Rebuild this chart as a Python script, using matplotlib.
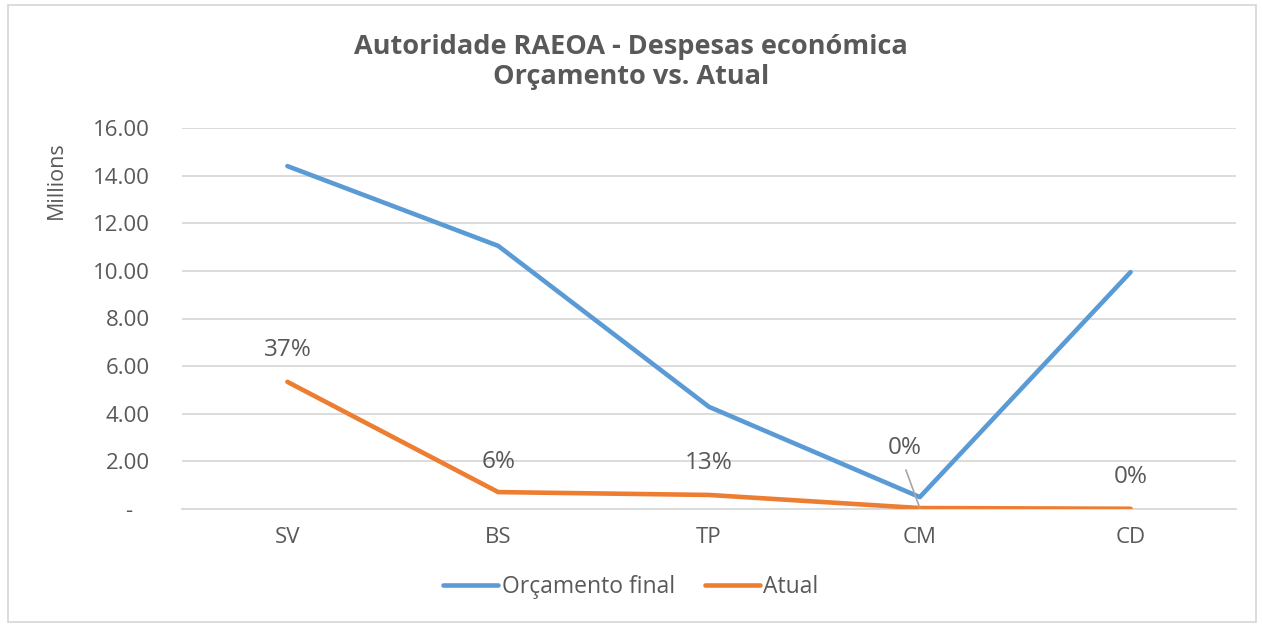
import matplotlib
matplotlib.use("Agg")
import matplotlib.pyplot as plt
from matplotlib.patches import Rectangle
from matplotlib.ticker import FixedLocator

categories = ["SV", "BS", "TP", "CM", "CD"]
orcamento_final = [14.40, 11.05, 4.29, 0.50, 9.95]
atual = [5.34, 0.71, 0.59, 0.04, 0.01]
pct_labels = ["37%", "6%", "13%", "0%", "0%"]
yticks = [0, 2, 4, 6, 8, 10, 12, 14, 16]
ytick_labels = ["-   ", "2.00", "4.00", "6.00", "8.00", "10.00", "12.00", "14.00", "16.00"]

plt.rcParams['font.family'] = ['Open Sans', 'DejaVu Sans']
text_color = "#595959"
blue = "#5B9BD5"
orange = "#ED7D31"

W, H = 1262, 626
fig = plt.figure(figsize=(W/100, H/100), dpi=100)
ax = fig.add_axes([182/W, 1 - 509/H, (1236-182)/W, (509-128)/H])

x = list(range(len(categories)))
ax.plot(x, orcamento_final, color=blue, lw=3.3, solid_capstyle='round', solid_joinstyle='round', label="Orçamento final", zorder=3)
ax.plot(x, atual, color=orange, lw=3.3, solid_capstyle='round', solid_joinstyle='round', label="Atual", zorder=4)

ax.set_xlim(-0.5, len(categories) - 0.5)
ax.set_ylim(0, 16)
ax.yaxis.set_major_locator(FixedLocator(yticks))
ax.set_yticklabels(ytick_labels)
ax.set_xticks(x)
ax.set_xticklabels(categories)
ax.grid(axis='y', color="#D9D9D9", lw=1.3)
ax.set_axisbelow(True)
for s in ["top", "right", "left"]:
    ax.spines[s].set_visible(False)
ax.spines["bottom"].set_color("#D9D9D9")
ax.spines["bottom"].set_linewidth(1.3)
ax.tick_params(axis='both', length=0, colors=text_color, labelsize=16)
ax.tick_params(axis='x', pad=13)
ax.tick_params(axis='y', pad=23)

fig.text(56/W, 1 - 180/H, "Millions", rotation=90, ha='center', va='center',
         fontsize=15.5, color=text_color)

# data labels
offsets = [(0, 23), (0, 22), (0, 23), (-11, 43), (0, 23)]
for i, (lab, (dx, dy)) in enumerate(zip(pct_labels, offsets)):
    ax.annotate(lab, (x[i], atual[i]), xytext=(dx, dy), textcoords='offset points',
                ha='center', va='center', fontsize=17.5, color=text_color, zorder=5)
# leader line for CM label
ax.annotate("", xy=(x[3], atual[3]), xytext=(x[3] - 0.066, 1.64),
            arrowprops=dict(arrowstyle='-', color="#A6A6A6", lw=1.2, shrinkA=0, shrinkB=0), zorder=5)

fig.text(0.5, 1 - 62/H, "Autoridade RAEOA - Despesas económica\nOrçamento vs. Atual",
         ha='center', va='center', fontsize=19.5, fontweight='bold', color=text_color, linespacing=1.2)

leg = fig.legend(loc='center', bbox_to_anchor=(0.5, 1 - 587/H), ncol=2, frameon=False,
                 fontsize=16.5, handlelength=2.4, handletextpad=0.15, columnspacing=1.3)
for t in leg.get_texts():
    t.set_color(text_color)

fig.patches.append(Rectangle((8/W, 1 - 622/H), 1248/W, 617/H, transform=fig.transFigure,
                             fill=False, edgecolor="#D9D9D9", lw=1.3))

fig.savefig("out.png", dpi=100)
